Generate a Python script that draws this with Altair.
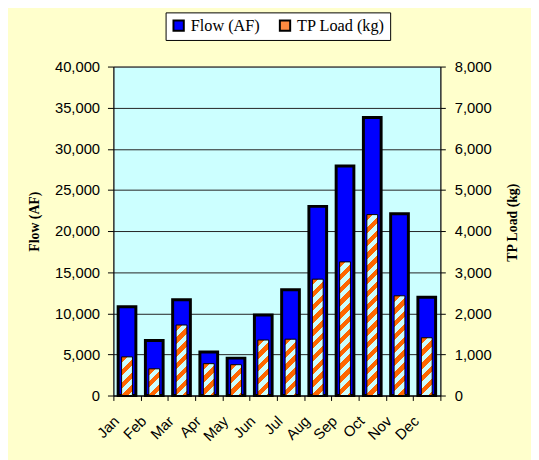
import altair as alt
import pandas as pd

# ---- data ----
months = ["Jan", "Feb", "Mar", "Apr", "May", "Jun",
          "Jul", "Aug", "Sep", "Oct", "Nov", "Dec"]
flow_af = [10800, 6700, 11650, 5300, 4550, 9800,
           12850, 23000, 27900, 33800, 22100, 11950]
tp_kg = [940, 650, 1715, 775, 750, 1350,
         1370, 2830, 3250, 4400, 2425, 1405]
flow_ticks = [0, 5000, 10000, 15000, 20000, 25000, 30000, 35000, 40000]
tp_ticks = [0, 1000, 2000, 3000, 4000, 5000, 6000, 7000, 8000]
series_names = ["Flow (AF)", "TP Load (kg)"]

# ---- style ----
PLOT_W, PLOT_H = 332, 334
TP_MAX = 8000
TP_BAR_W = 11
PERIOD = 13
ORANGE, CYAN, BLUE = "#FF6600", "#CCFFFF", "#0000FF"


def hatch(w, h, period=PERIOD, frac=0.5):
    """Diagonal (/) stripe gradient for a w x h bar (objectBoundingBox units)."""
    h = max(h, 1.0)
    den = w * w + h * h
    x2 = w * (w + h) / den
    y2 = h * (w + h) / den
    n = (w + h) / period
    stops = []
    i = 0
    while i / n < 1:
        a = round(i / n, 5)
        b = round(min((i + frac) / n, 1), 5)
        c = round(min((i + 1) / n, 1), 5)
        stops += [{"offset": a, "color": ORANGE}, {"offset": b, "color": ORANGE},
                  {"offset": b, "color": CYAN}, {"offset": c, "color": CYAN}]
        i += 1
    return {"gradient": "linear", "x1": 0, "y1": 0, "x2": round(x2, 5),
            "y2": round(y2, 5), "stops": stops}


df = pd.DataFrame({"Month": months, "Flow": flow_af, "TP": tp_kg,
                   "series": series_names[0]})

x_enc = alt.X("Month:N", sort=months,
              scale=alt.Scale(paddingInner=0, paddingOuter=0),
              axis=alt.Axis(title=None, labelAngle=315, labelAlign="right",
                            labelBaseline="middle", labelPadding=18,
                            labelOffset=-11, tickBand="extent", tickSize=5,
                            grid=False))

flow = alt.Chart(df).mark_bar(size=18, stroke="black", strokeWidth=3).encode(
    x=x_enc,
    y=alt.Y("Flow:Q", scale=alt.Scale(domain=[0, 40000], nice=False),
            axis=alt.Axis(title="Flow (AF)", values=flow_ticks, format=",.0f",
                          grid=True, gridColor="#222222", gridWidth=1,
                          tickSize=6, labelPadding=8,
                          titleX=-80, titleY=157, titleAngle=270,
                          titleAlign="center", titleBaseline="middle")),
    fill=alt.Fill("series:N",
                  scale=alt.Scale(domain=series_names, range=[BLUE, "#FF8A40"]),
                  legend=alt.Legend(
                      title=None, orient="none", legendX=53, legendY=-55,
                      direction="horizontal", symbolType="square",
                      symbolSize=110, symbolStrokeWidth=2,
                      symbolStrokeColor="black", labelFont="Liberation Serif",
                      labelFontSize=16.5, labelColor="black", labelOffset=4,
                      columnPadding=16, padding=5, fillColor="white",
                      strokeColor="black")),
)

tp_fill = alt.FillValue(
    value=CYAN,
    condition=[{"test": f"datum.Month === '{m}'",
                "value": hatch(TP_BAR_W, v / TP_MAX * PLOT_H)}
               for m, v in zip(months, tp_kg)])

tp = alt.Chart(df).mark_bar(size=TP_BAR_W, stroke="black", strokeWidth=1).encode(
    x=x_enc,
    y=alt.Y("TP:Q", scale=alt.Scale(domain=[0, TP_MAX], nice=False),
            axis=alt.Axis(title="TP Load (kg)", orient="right", values=tp_ticks,
                          format=",.0f", grid=False, tickSize=5, labelPadding=9,
                          titleX=73, titleY=158, titleAngle=270,
                          titleAlign="center", titleBaseline="middle")),
    fill=tp_fill,
)

chart = alt.layer(flow, tp).resolve_scale(y="independent").properties(
    width=PLOT_W, height=PLOT_H,
    autosize=alt.AutoSizeParams(type="none"),
    padding={"left": 107, "top": 56, "right": 92, "bottom": 62},
    background="#FFFFCC",
).configure_view(
    fill=CYAN, stroke="#808080", strokeWidth=1
).configure_axis(
    labelFont="Liberation Sans", labelFontSize=15, labelColor="black",
    titleFont="Liberation Serif", titleFontSize=14, titleFontWeight="bold",
    titleColor="black", domainColor="black", tickColor="black",
    domainWidth=1, tickWidth=1,
)

chart.save("out.html", embed_options={"renderer": "svg", "actions": False})
